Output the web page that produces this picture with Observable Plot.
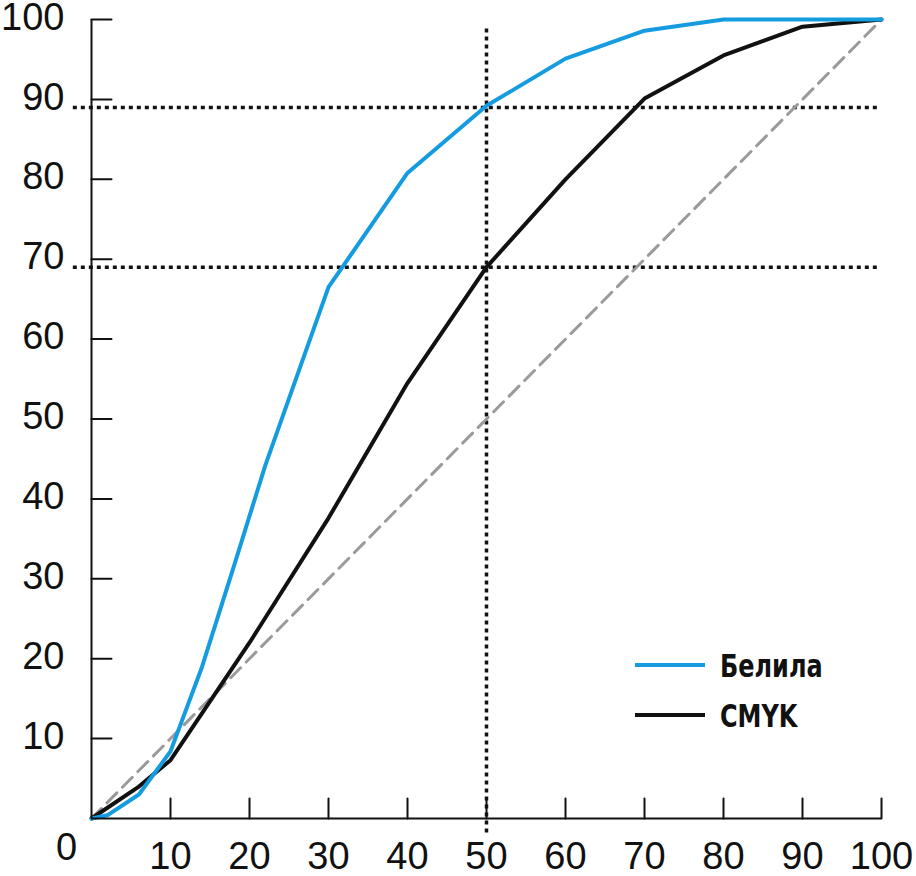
<!DOCTYPE html>
<html>
<head>
<meta charset="utf-8">
<script src="https://cdn.jsdelivr.net/npm/d3@7"></script>
<script src="https://cdn.jsdelivr.net/npm/@observablehq/plot@0.6"></script>
<style>
  html, body { margin: 0; padding: 0; background: #fff; }
  #wrap { position: relative; width: 916px; height: 876px; }
  #legend { position: absolute; left: 635px; top: 640px; font-family: "Liberation Sans Narrow", "DejaVu Sans Condensed", "Arial Narrow", sans-serif; font-stretch: condensed; font-weight: bold; font-size: 31px; color: #111; }
  .row { display: flex; align-items: center; height: 50px; }
  .sw { width: 70px; height: 4px; margin-right: 15px; }
  .lbl { display: inline-block; transform: scale(0.86, 1.05); transform-origin: left center; }
</style>
</head>
<body>
<div id="wrap"><div id="legend"></div></div>
<script>
// Data
const seriesNames = ["Белила", "CMYK"];
const seriesColors = ["#149be0", "#111111"];
const belilaX = [0, 2, 6, 10, 14, 18, 22, 30, 40, 50, 60, 70, 80, 90, 100];
const belilaY = [0, 0.4, 3, 8.4, 19, 31.5, 44.2, 66.5, 80.8, 89.2, 95.1, 98.6, 100, 100, 100];
const cmykX = [0, 6, 10, 20, 30, 40, 50, 60, 70, 80, 90, 100];
const cmykY = [0, 4, 7.3, 22, 37.6, 54.5, 69, 80, 90.1, 95.5, 99.1, 100];
const diagX = [0, 100];
const diagY = [0, 100];
const guideLevelsY = [89, 69];
const guideRangeX = [-2.3, 99.6];
const guideX = 50;
const guideRangeY = [-1.8, 98.8];
const xTicks = [10, 20, 30, 40, 50, 60, 70, 80, 90, 100];
const yTicks = [10, 20, 30, 40, 50, 60, 70, 80, 90, 100];
const originLabel = ["0"];

const belila = belilaX.map((x, i) => ({x, y: belilaY[i]}));
const cmyk = cmykX.map((x, i) => ({x, y: cmykY[i]}));
const diag = diagX.map((x, i) => ({x, y: diagY[i]}));

const chart = Plot.plot({
  width: 916,
  height: 876,
  marginLeft: 91,
  marginRight: 35,
  marginTop: 19,
  marginBottom: 58,
  x: {domain: [0, 100]},
  y: {domain: [0, 100]},
  style: {fontFamily: "'Liberation Sans', Arial, Helvetica, sans-serif", fontSize: "38px", color: "#111", background: "#fff"},
  marks: [
    Plot.axisX(xTicks, {tickSize: 0, tickPadding: 24, label: null, tickFormat: d => String(d), fontSize: 38}),
    Plot.axisY(yTicks, {tickSize: 0, tickPadding: 27, label: null, tickFormat: d => String(d), dy: -2, fontSize: 38}),
    Plot.text(originLabel, {x: 0, y: 0, text: d => d, dx: -25, dy: 29, fontSize: 38, fill: "#111"}),
    // guide lines
    Plot.ruleY(guideLevelsY, {y: d => d, x1: guideRangeX[0], x2: guideRangeX[1], stroke: "#111", strokeWidth: 3.5, strokeDasharray: "4 4"}),
    Plot.ruleX([guideX], {x: d => d, y1: guideRangeY[0], y2: guideRangeY[1], stroke: "#111", strokeWidth: 3.5, strokeDasharray: "4 4"}),
    // diagonal
    Plot.line(diag, {x: "x", y: "y", stroke: "#9a9a9a", strokeWidth: 3, strokeDasharray: "14 8"}),
    // series
    Plot.line(cmyk, {x: "x", y: "y", stroke: seriesColors[1], strokeWidth: 4}),
    Plot.line(belila, {x: "x", y: "y", stroke: seriesColors[0], strokeWidth: 4}),
    // axes lines
    Plot.ruleX([0], {stroke: "#111", strokeWidth: 2}),
    Plot.ruleY([0], {stroke: "#111", strokeWidth: 2}),
    // ticks (pointing inward)
    Plot.vector(xTicks, {x: d => d, y: 0, length: 20, rotate: 0, anchor: "start", stroke: "#111", strokeWidth: 2, shape: "spike", r: 0}),
    Plot.vector(yTicks, {x: 0, y: d => d, length: 20, rotate: 90, anchor: "start", stroke: "#111", strokeWidth: 2, shape: "spike", r: 0})
  ]
});
document.getElementById("wrap").prepend(chart);

const legend = document.getElementById("legend");
seriesNames.forEach((name, i) => {
  const row = document.createElement("div");
  row.className = "row";
  const sw = document.createElement("div");
  sw.className = "sw";
  sw.style.background = seriesColors[i];
  const t = document.createElement("span");
  t.className = "lbl";
  t.textContent = name;
  row.appendChild(sw);
  row.appendChild(t);
  legend.appendChild(row);
});
</script>
</body>
</html>
